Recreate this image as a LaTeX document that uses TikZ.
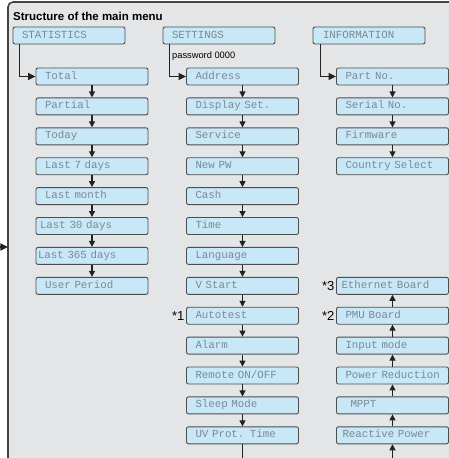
\documentclass[tikz,border=0pt]{standalone}
\usepackage{fontspec}
\setmainfont{Liberation Sans}
\newfontfamily\lcdfont{Liberation Mono}
\usetikzlibrary{arrows.meta}
\definecolor{panelbg}{HTML}{E4E5E7}
\definecolor{panelline}{HTML}{444444}
\definecolor{boxfill}{HTML}{C8E8F8}
\definecolor{boxline}{HTML}{4D4D4D}
\definecolor{lcdtext}{HTML}{7A8992}
\definecolor{arrline}{HTML}{222222}
\newcommand\padamt{7pt}
\begin{document}
\begin{tikzpicture}[x=1pt,y=-1pt,
  menubox/.style={draw=boxline, line width=0.9pt, fill=boxfill, rounded corners=2pt,
    minimum height=17pt, inner ysep=0pt, inner xsep=2pt, text width=108pt, align=left,
    text height=7pt, text depth=2pt, font=\lcdfont\fontsize{10.8}{12}\selectfont,
    text=lcdtext, execute at begin node={\hspace*{\padamt}}},
  pad/.code={\def\padamt{#1}},
  arr/.style={draw=arrline, line width=1.1pt, -{Triangle[length=6pt,width=6pt]}},
  bigarr/.style={draw=arrline, line width=1.1pt, -{Triangle[length=7.5pt,width=7pt]}},
  plainline/.style={draw=arrline, line width=1.1pt},
  star/.style={anchor=east, inner sep=0pt, font=\fontsize{13}{15}\selectfont}
]
\useasboundingbox (0,0) rectangle (449,458);
\clip (0,0) rectangle (449,458);
% panel
\draw[draw=panelline, line width=1.6pt, fill=panelbg, rounded corners=5pt]
  (8,480) -- (8,2) -- (470,2) -- (470,480) -- cycle;
\node[anchor=base west, inner sep=0pt, font=\bfseries\fontsize{11.5}{13}\selectfont] (title) at (13,20) {Structure of the main menu};

% headers
\node[menubox] (stat) at (69,35.5) {STATISTICS};
\node[menubox] (sett) at (219,35.5) {SETTINGS};
\node[menubox, pad=8pt] (info) at (369,35.5) {INFORMATION};
\node[anchor=west, inner sep=0pt, font=\fontsize{9.3}{11}\selectfont] (pw) at (172,56.5) {password 0000};

% column 1
\node[menubox] (c1a) at (92,76.5) {Total};
\node[menubox] (c1b) at (92,106.4) {Partial};
\node[menubox] (c1c) at (92,136.3) {Today};
\node[menubox] (c1d) at (92,166.2) {Last 7 days};
\node[menubox] (c1e) at (92,196.1) {Last month};
\node[menubox, pad=2pt] (c1f) at (92,226.0) {Last 30 days};
\node[menubox, pad=0pt] (c1g) at (92,255.9) {Last 365 days};
\node[menubox] (c1h) at (92,285.8) {User Period};

% column 2
\node[menubox] (c2a) at (242.5,76.5) {Address};
\node[menubox] (c2b) at (242.5,106.4) {Display Set.};
\node[menubox] (c2c) at (242.5,136.3) {Service};
\node[menubox] (c2d) at (242.5,166.2) {New PW};
\node[menubox] (c2e) at (242.5,196.1) {Cash};
\node[menubox] (c2f) at (242.5,226.0) {Time};
\node[menubox] (c2g) at (242.5,255.9) {Language};
\node[menubox] (c2h) at (242.5,285.8) {V Start};
\node[menubox] (c2i) at (242.5,315.7) {Autotest};
\node[menubox] (c2j) at (242.5,345.6) {Alarm};
\node[menubox] (c2k) at (242.5,375.5) {Remote ON/OFF};
\node[menubox] (c2l) at (242.5,405.4) {Sleep Mode};
\node[menubox] (c2m) at (242.5,435.3) {UV Prot. Time};

% column 3
\node[menubox] (c3a) at (392.5,76.5) {Part No.};
\node[menubox] (c3b) at (392.5,106.4) {Serial No.};
\node[menubox] (c3c) at (392.5,136.3) {Firmware};
\node[menubox] (c3d) at (392.5,166.2) {Country Select};
\node[menubox, pad=3pt] (c3h) at (392.5,285.8) {Ethernet Board};
\node[menubox] (c3i) at (392.5,315.7) {PMU Board};
\node[menubox] (c3j) at (392.5,345.6) {Input mode};
\node[menubox] (c3k) at (392.5,375.5) {Power Reduction};
\node[menubox, pad=12pt] (c3l) at (392.5,405.4) {MPPT};
\node[menubox, pad=4pt] (c3m) at (392.5,435.3) {Reactive Power};

% footnote marks
\node[star] (s1) at ([xshift=-1.5pt]c2i.west) {*1};
\node[star] (s2) at ([xshift=-1.5pt]c3i.west) {*2};
\node[star] (s3) at ([xshift=-1.5pt]c3h.west) {*3};

% header connectors
\draw[bigarr] ([xshift=7pt]stat.south west) |- (c1a.west);
\draw[bigarr] ([xshift=7pt]sett.south west) |- (c2a.west);
\draw[bigarr] ([xshift=8pt]info.south west) |- (c3a.west);

% column chains
\foreach \a/\b in {c1a/c1b,c1b/c1c,c1c/c1d,c1d/c1e,c1e/c1f,c1f/c1g,c1g/c1h,
  c2a/c2b,c2b/c2c,c2c/c2d,c2d/c2e,c2e/c2f,c2f/c2g,c2g/c2h,c2h/c2i,c2i/c2j,c2j/c2k,c2k/c2l,c2l/c2m,
  c3a/c3b,c3b/c3c,c3c/c3d,
  c3m/c3l,c3l/c3k,c3k/c3j,c3j/c3i,c3i/c3h}
  \draw[arr] (\a) -- (\b);

% off-picture connections
\coordinate (setbot) at (c2m.south |- 0,470);
\draw[plainline] (c2m.south) -- (setbot);
\coordinate (infbot) at (c3m.south |- 0,470);
\draw[arr] (infbot) -- (c3m.south);
\coordinate (ext) at (-3,247);
\coordinate (pedge) at (8,247);
\draw[bigarr] (ext) -- (pedge);
\end{tikzpicture}
\end{document}
